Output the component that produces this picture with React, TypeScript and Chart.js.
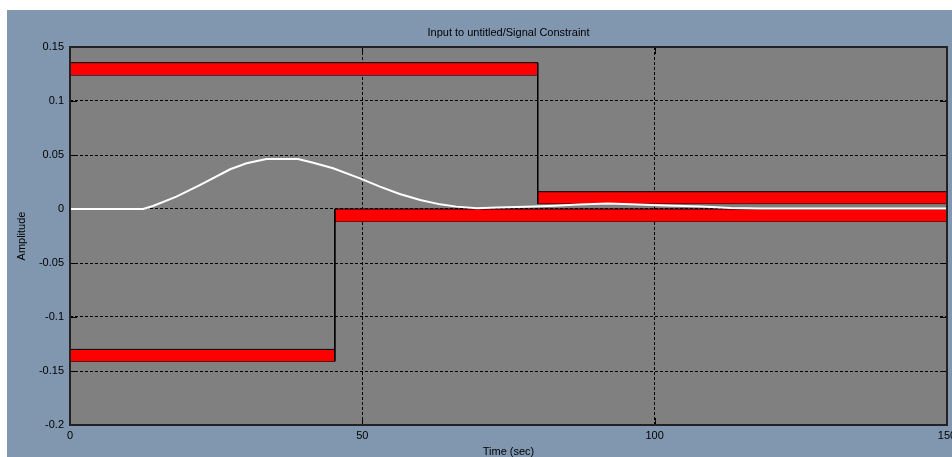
import React, { useEffect, useRef } from "react";
import { Chart, registerables } from "chart.js";

Chart.register(...registerables);

// ---- data ----
const chartTitle = "Input to untitled/Signal Constraint";
const xAxisTitle = "Time (sec)";
const yAxisTitle = "Amplitude";

const timeTicks = [0, 50, 100, 150];
const ampTicks = [-0.2, -0.15, -0.1, -0.05, 0, 0.05, 0.1, 0.15];

const signalTime = [0, 12.5, 14.2, 18.2, 22.2, 27.4, 30.2, 33.6, 39.0, 41.6, 45.0, 49.6, 53.0, 56.4, 59.9, 63.3, 66.1, 69.6, 73, 78, 83, 87, 92, 96, 102, 108, 113, 118, 150];
const signalAmp = [0, 0, 0.0028, 0.0114, 0.0222, 0.0368, 0.0423, 0.0463, 0.0463, 0.0429, 0.0377, 0.0284, 0.0207, 0.0139, 0.0083, 0.0043, 0.0022, 0.0006, 0.0015, 0.002, 0.003, 0.0042, 0.005, 0.0043, 0.0033, 0.0023, 0.001, 0.0005, 0.0005];

// upper bound segments (constraint patches)
const upperBoundStart = [0, 80];
const upperBoundEnd = [80, 150];
const upperBoundInner = [0.124, 0.005];
const upperBoundOuter = [0.1355, 0.016];

// lower bound segments
const lowerBoundStart = [0, 45.3];
const lowerBoundEnd = [45.3, 150];
const lowerBoundInner = [-0.13, 0];
const lowerBoundOuter = [-0.141, -0.0115];

// ---- styles ----
const FONT = "'Liberation Sans', Arial, sans-serif";
const PAGE_BG = "#8197b0";
const PLOT_BG = "#808080";
const PATCH_RED = "#ff0000";

function patchDatasets(start: number[], end: number[], inner: number[], outer: number[]) {
  const ds: any[] = [];
  for (let i = 0; i < start.length; i++) {
    const hi = Math.max(inner[i], outer[i]);
    const lo = Math.min(inner[i], outer[i]);
    ds.push({
      data: [{ x: start[i], y: hi }, { x: end[i], y: hi }],
      borderColor: "#000",
      borderWidth: 1,
      backgroundColor: PATCH_RED,
      fill: "+1",
      pointRadius: 0,
      order: 2,
    });
    ds.push({
      data: [{ x: start[i], y: lo }, { x: end[i], y: lo }],
      borderColor: "#000",
      borderWidth: 1,
      fill: false,
      pointRadius: 0,
      order: 2,
    });
  }
  // vertical connectors between consecutive segments
  for (let i = 0; i + 1 < start.length; i++) {
    const ys = [inner[i], outer[i], inner[i + 1], outer[i + 1]];
    ds.push({
      data: [{ x: end[i], y: Math.max(...ys) }, { x: end[i], y: Math.min(...ys) }],
      borderColor: "#000",
      borderWidth: 1,
      fill: false,
      pointRadius: 0,
      order: 1,
    });
  }
  return ds;
}

const backgroundPlugin = {
  id: "bgPlot",
  beforeDraw(chart: any) {
    const { ctx, chartArea } = chart;
    ctx.save();
    ctx.fillStyle = PAGE_BG;
    ctx.fillRect(0, 0, chart.width, chart.height);
    ctx.fillStyle = PLOT_BG;
    ctx.fillRect(chartArea.left, chartArea.top, chartArea.right - chartArea.left, chartArea.bottom - chartArea.top);
    ctx.restore();
  },
};

const tickMarkPlugin = {
  id: "innerTicks",
  beforeDatasetsDraw(chart: any) {
    const { ctx, chartArea, scales } = chart;
    const { left, right, top, bottom } = chartArea;
    const len = 7;
    ctx.save();
    ctx.strokeStyle = "#000";
    ctx.lineWidth = 1;
    ctx.beginPath();
    for (const v of ampTicks) {
      const y = Math.round(scales.y.getPixelForValue(v)) + 0.5;
      ctx.moveTo(left, y);
      ctx.lineTo(left + len, y);
      ctx.moveTo(right - len, y);
      ctx.lineTo(right, y);
    }
    for (const v of timeTicks) {
      const x = Math.round(scales.x.getPixelForValue(v)) + 0.5;
      ctx.moveTo(x, bottom);
      ctx.lineTo(x, bottom - len);
      ctx.moveTo(x, top);
      ctx.lineTo(x, top + len);
    }
    ctx.stroke();
    ctx.restore();
  },
};

const framePlugin = {
  id: "frame",
  afterDraw(chart: any) {
    const { ctx, chartArea } = chart;
    const { left, right, top, bottom } = chartArea;
    ctx.save();
    ctx.strokeStyle = "#222";
    ctx.lineWidth = 2;
    ctx.strokeRect(Math.round(left), Math.round(top), Math.round(right - left), Math.round(bottom - top));
    ctx.restore();
  },
};

export default function App() {
  const canvasRef = useRef<HTMLCanvasElement | null>(null);

  useEffect(() => {
    const canvas = canvasRef.current;
    if (!canvas) return;

    const signalData = signalTime.map((t, i) => ({ x: t, y: signalAmp[i] }));

    const datasets: any[] = [
      {
        label: "signal",
        data: signalData,
        borderColor: "#ffffff",
        borderWidth: 2,
        pointRadius: 0,
        fill: false,
        tension: 0,
        order: 0,
      },
      ...patchDatasets(upperBoundStart, upperBoundEnd, upperBoundInner, upperBoundOuter),
      ...patchDatasets(lowerBoundStart, lowerBoundEnd, lowerBoundInner, lowerBoundOuter),
    ];

    const chart = new Chart(canvas, {
      type: "line",
      data: { datasets },
      options: {
        responsive: false,
        animation: false,
        events: [],
        layout: { padding: { left: 0, right: 20, top: 0, bottom: 11 } },
        plugins: {
          legend: { display: false },
          tooltip: { enabled: false },
          title: {
            display: true,
            text: chartTitle,
            fullSize: false,
            color: "#000",
            font: { family: FONT, size: 11, weight: "normal" },
            padding: { top: 16.5, bottom: 7.3 },
          },
        },
        scales: {
          x: {
            type: "linear",
            min: 0,
            max: 150,
            afterBuildTicks: (scale: any) => {
              scale.ticks = timeTicks.map((v) => ({ value: v }));
            },
            afterFit: (scale: any) => {
              scale.height = 34;
            },
            ticks: {
              color: "#000",
              font: { family: FONT, size: 11 },
              padding: 4,
              maxRotation: 0,
              autoSkip: false,
              callback: (v: any) => String(v),
            },
            grid: { color: "#000", lineWidth: 1, drawTicks: false },
            border: { display: false, dash: [3, 2] },
            title: {
              display: true,
              text: xAxisTitle,
              color: "#000",
              font: { family: FONT, size: 11 },
              padding: { top: 0, bottom: 0 },
            },
          },
          y: {
            type: "linear",
            min: -0.2,
            max: 0.15,
            afterBuildTicks: (scale: any) => {
              scale.ticks = ampTicks.map((v) => ({ value: v }));
            },
            afterFit: (scale: any) => {
              scale.width = 63;
            },
            ticks: {
              color: "#000",
              font: { family: FONT, size: 11 },
              padding: 6,
              autoSkip: false,
              callback: (v: any) => String(parseFloat(Number(v).toFixed(4))),
            },
            grid: { color: "#000", lineWidth: 1, drawTicks: false },
            border: { display: false, dash: [3, 2] },
            title: {
              display: true,
              text: yAxisTitle,
              color: "#000",
              font: { family: FONT, size: 11 },
              padding: { top: 8.4, bottom: 0 },
            },
          },
        },
      },
      plugins: [backgroundPlugin, tickMarkPlugin, framePlugin],
    });

    return () => {
      chart.destroy();
    };
  }, []);

  return (
    <div
      style={{
        position: "fixed",
        left: 0,
        top: 0,
        width: 952,
        height: 457,
        overflow: "hidden",
        background: "#ffffff",
      }}
    >
      <canvas
        ref={canvasRef}
        width={960}
        height={460}
        style={{ position: "absolute", left: 7, top: 10, width: 960, height: 460 }}
      />
    </div>
  );
}
